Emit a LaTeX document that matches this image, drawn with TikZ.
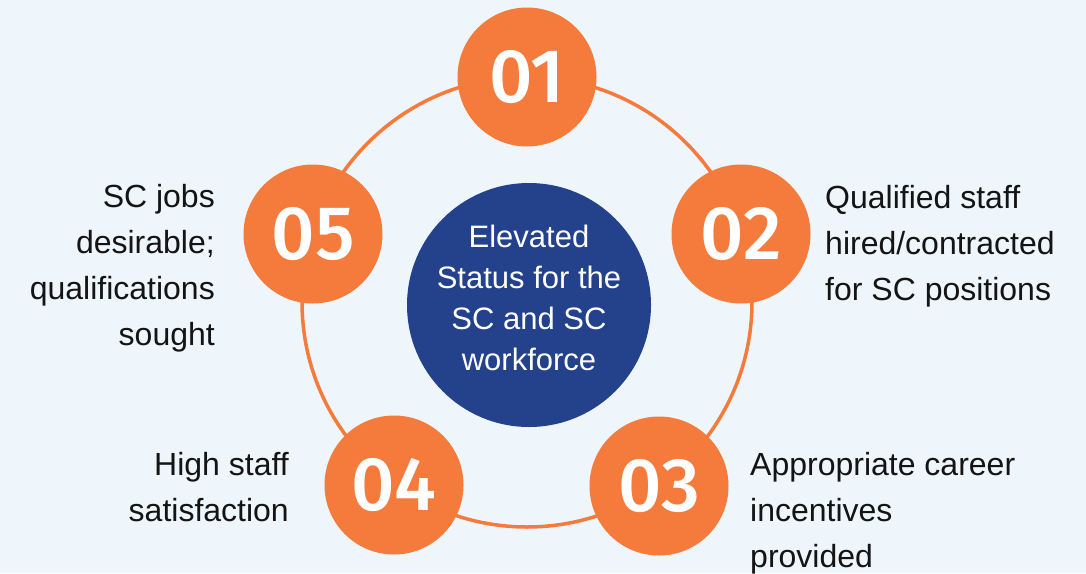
\documentclass[tikz,border=0pt]{standalone}
\usepackage{fontspec}
\setmainfont{Liberation Sans}
\newfontfamily\numfont{Fira Sans}[UprightFont={* Medium}]
\definecolor{bgblue}{RGB}{238,246,251}
\definecolor{ringorange}{RGB}{244,123,60}
\definecolor{coreblue}{RGB}{36,65,140}
\definecolor{labelgray}{RGB}{20,20,20}
\tikzset{
  stage/.style={circle, fill=ringorange, minimum size=139pt, inner sep=0pt},
  stagenum/.style={text=white, font=\numfont\fontsize{76}{76}\selectfont, inner sep=0pt},
  core/.style={circle, fill=coreblue, minimum size=244pt, inner sep=0pt},
  lbl/.style={inner sep=0pt, text=labelgray},
}
\newcommand{\lbltext}[2]{\parbox[t]{300pt}{#1\fontsize{32}{46}\selectfont #2}}
\begin{document}
\begin{tikzpicture}[x=1pt,y=-1pt]
  % canvas
  \fill[bgblue] (0,0) rectangle (1086,573);
  \useasboundingbox (0,0) rectangle (1086,573);

  % ring linking the five stages
  \coordinate (hub) at (527,302);
  \draw[ringorange, line width=3.5pt] (hub) circle[radius=225];

  % central goal
  \node[core] (goal) at (529,305) {};
  \node[anchor=base, inner sep=0pt, text=white] (goaltext) at (529,247)
    {\parbox[t]{240pt}{\centering\fontsize{31}{41}\selectfont Elevated\\Status for the\\SC and SC\\workforce}};

  % stage circles
  \node[stage] (s1) at (527,77) {};
  \node[stage] (s2) at (741,234) {};
  \node[stage] (s3) at (659,486) {};
  \node[stage] (s4) at (394,485) {};
  \node[stage] (s5) at (313,234) {};

  \node[stagenum] (n1) at (s1) {01};
  \node[stagenum] (n2) at (s2) {02};
  \node[stagenum] (n3) at (s3) {03};
  \node[stagenum] (n4) at (s4) {04};
  \node[stagenum] (n5) at (s5) {05};

  % stage descriptions
  \node[lbl, anchor=base west] (l2) at (825,208)
    {\lbltext{\raggedright}{Qualified staff\\hired/contracted\\for SC positions}};
  \node[lbl, anchor=base west] (l3) at (750,475)
    {\lbltext{\raggedright}{Appropriate career\\incentives\\provided}};
  \node[lbl, anchor=base east] (l4) at (289,475)
    {\lbltext{\raggedleft}{High staff\\satisfaction}};
  \node[lbl, anchor=base east] (l5) at (215,207)
    {\lbltext{\raggedleft}{SC jobs\\desirable;\\qualifications\\sought}};
\end{tikzpicture}
\end{document}
